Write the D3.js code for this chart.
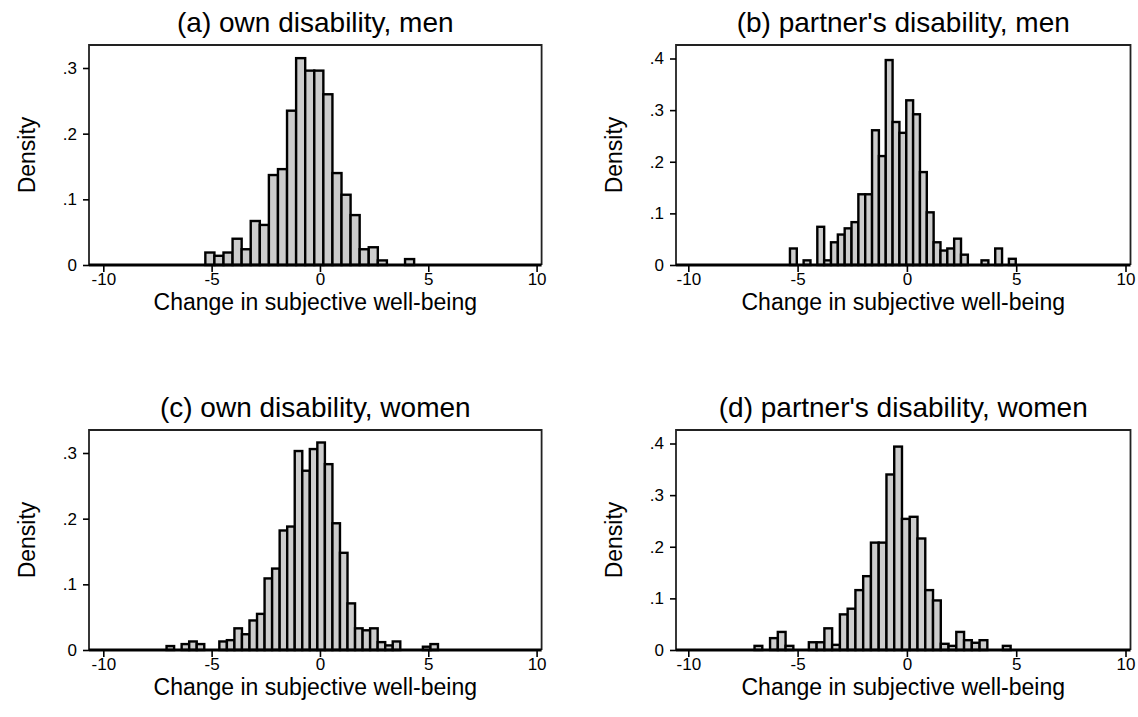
<!DOCTYPE html>
<html>
<head>
<meta charset="utf-8">
<script src="https://cdn.jsdelivr.net/npm/d3@7"></script>
<style>
  body { margin: 0; background: #fff; }
  text { font-family: "Liberation Sans", Arial, sans-serif; fill: #000; }
</style>
</head>
<body>
<div class="chart"></div>
<script>
var width = 1138,
    height = 717;

// panel titles and axis text
var titles = ["(a) own disability, men", "(b) partner's disability, men",
              "(c) own disability, women", "(d) partner's disability, women"];
var xLabel = "Change in subjective well-being";
var yLabel = "Density";
var xTicks = [-10, -5, 0, 5, 10];
var yTicksSmall = [0, .1, .2, .3];
var yTicksBig = [0, .1, .2, .3, .4];

// histogram bins: first left edge and bin width, per panel
var binStart = [-5.29, -5.35, -7.08, -6.97];
var binWidth = [0.419, 0.313, 0.348, 0.355];

// densities
var densA = [0.019, 0.014, 0.019, 0.040, 0.024, 0.067, 0.061, 0.137, 0.146, 0.235,
             0.315, 0.296, 0.296, 0.260, 0.140, 0.107, 0.076, 0.024, 0.027, 0.007,
             0, 0, 0.009];
var densB = [0.032, 0, 0.009, 0, 0.074, 0.009, 0.044, 0.059, 0.071, 0.083,
             0.137, 0.137, 0.261, 0.211, 0.397, 0.277, 0.256, 0.319, 0.292, 0.180,
             0.102, 0.044, 0.028, 0.032, 0.051, 0.020, 0, 0, 0.009, 0,
             0.032, 0, 0.012];
var densC = [0.006, 0, 0.009, 0.013, 0.009, 0, 0, 0.013, 0.015, 0.033,
             0.024, 0.045, 0.055, 0.109, 0.124, 0.182, 0.188, 0.303, 0.273, 0.306,
             0.316, 0.283, 0.193, 0.148, 0.071, 0.033, 0.030, 0.033, 0.012, 0.007,
             0.013, 0, 0, 0, 0.005, 0.009];
var densD = [0.008, 0, 0.023, 0.035, 0.008, 0, 0, 0.015, 0.015, 0.042,
             0.010, 0.069, 0.080, 0.116, 0.143, 0.208, 0.208, 0.340, 0.394, 0.254,
             0.258, 0.216, 0.116, 0.096, 0.012, 0.008, 0.035, 0.019, 0.014, 0.019,
             0, 0, 0.008];

var dens = [densA, densB, densC, densD];
var yTicks = [yTicksSmall, yTicksBig, yTicksSmall, yTicksBig];

var svg = d3.select(".chart").append("svg")
    .attr("width", width)
    .attr("height", height);

// layout: columns and rows
var cols = [{L: 89, x0: 103.3, x1: 536.6}, {L: 676, x0: 688.3, x1: 1125.5}];
var rows = [{top: 45, bottom: 265}, {top: 430, bottom: 650}];

var yFmt = function(d) { return d === 0 ? "0" : d3.format(".1f")(d).replace(/^0/, ""); };
var xFmt = function(d) { return String(d); };   // plain hyphen like the original

for (let p = 0; p < 4; p++) {
    let c = cols[p % 2], r = rows[Math.floor(p / 2)];
    let R = c.x1 + 5;
    let big = (p % 2 === 1);

    let x = d3.scaleLinear().domain([-10, 10]).range([c.x0, c.x1]);
    let y = d3.scaleLinear()
        .domain([0, big ? 0.4 : 0.3])
        .range([r.bottom, r.bottom - (big ? 206.5 : 197)]);

    let g = svg.append("g");

    let bins = dens[p].map(function(v, i) {
        return {x0: binStart[p] + i * binWidth[p], x1: binStart[p] + (i + 1) * binWidth[p], v: v};
    }).filter(function(d) { return d.v > 0; });

    g.selectAll("rect.bar")
        .data(bins)
        .enter().append("rect")
        .attr("class", "bar")
        .attr("x", function(d) { return x(d.x0); })
        .attr("width", function(d) { return x(d.x1) - x(d.x0); })
        .attr("y", function(d) { return y(d.v); })
        .attr("height", function(d) { return y(0) - y(d.v); })
        .attr("fill", "#cccccc")
        .attr("stroke", "#000")
        .attr("stroke-width", 2.4);

    // frame
    g.append("path")
        .attr("d", "M" + c.L + "," + r.bottom + "V" + r.top + "H" + R + "V" + r.bottom)
        .attr("fill", "none")
        .attr("stroke", "#222")
        .attr("stroke-width", 1.8);
    g.append("line")
        .attr("x1", c.L).attr("x2", R)
        .attr("y1", r.bottom).attr("y2", r.bottom)
        .attr("stroke", "#000")
        .attr("stroke-width", 3);

    // axes
    let ya = g.append("g")
        .attr("transform", "translate(" + c.L + ",0)")
        .call(d3.axisLeft(y).tickValues(yTicks[p]).tickFormat(yFmt).tickSize(6).tickPadding(6));
    let xa = g.append("g")
        .attr("transform", "translate(0," + r.bottom + ")")
        .call(d3.axisBottom(x).tickValues(xTicks).tickFormat(xFmt).tickSize(7).tickPadding(1));
    [ya, xa].forEach(function(a) {
        a.attr("font-size", null).attr("font-family", null);
        a.select(".domain").remove();
        a.selectAll("line").attr("stroke", "#000").attr("stroke-width", 1.6);
        a.selectAll("text")
            .style("font-size", "17px")
            .style("font-family", "'Liberation Sans', Arial, sans-serif")
            .style("fill", "#000");
    });

    g.append("text")
        .attr("x", (c.L + R) / 2)
        .attr("y", r.top - 13)
        .attr("text-anchor", "middle")
        .style("font-size", "28px")
        .text(titles[p]);

    g.append("text")
        .attr("x", (c.L + R) / 2)
        .attr("y", r.bottom + 45)
        .attr("text-anchor", "middle")
        .style("font-size", "23px")
        .text(xLabel);

    g.append("text")
        .attr("transform", "translate(" + (c.L - 54) + "," + ((r.top + r.bottom) / 2) + ") rotate(-90)")
        .attr("text-anchor", "middle")
        .style("font-size", "23px")
        .text(yLabel);
}
</script>
</body>
</html>
